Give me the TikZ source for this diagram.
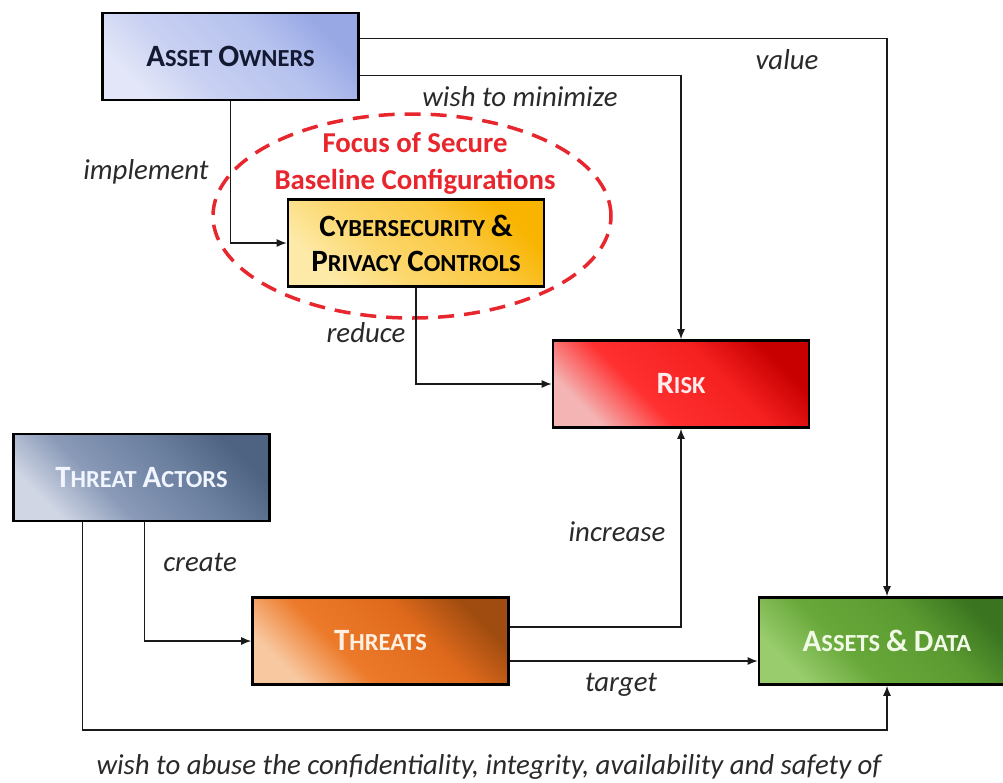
\documentclass[tikz,border=0pt]{standalone}
\usepackage{fontspec}
\setmainfont{Carlito}
\usetikzlibrary{arrows.meta,shapes.geometric}
\definecolor{lineclr}{HTML}{1A1A1A}
\definecolor{lblclr}{HTML}{2A2A2A}
\definecolor{focusred}{HTML}{E8262E}
\newcommand{\mkshade}[5]{\pgfdeclareverticalshading{#1}{100bp}{color(0bp)=(#2); color(25bp)=(#2); color(40bp)=(#3); color(60bp)=(#4); color(75bp)=(#5); color(100bp)=(#5)}}
\definecolor{aoA}{HTML}{E2E6F8}\definecolor{aoB}{HTML}{C8D0F2}\definecolor{aoC}{HTML}{B6C2EE}\definecolor{aoD}{HTML}{98A8E4}\definecolor{aoT}{RGB}{20,25,50}
\definecolor{cyA}{HTML}{FDEAA8}\definecolor{cyB}{HTML}{FCD870}\definecolor{cyC}{HTML}{FBC840}\definecolor{cyD}{HTML}{F8B400}
\definecolor{rkA}{HTML}{F4B4B4}\definecolor{rkB}{HTML}{FF3030}\definecolor{rkC}{HTML}{F52020}\definecolor{rkD}{HTML}{C80000}\definecolor{rkT}{RGB}{255,235,235}
\definecolor{taA}{HTML}{D0D6E4}\definecolor{taB}{HTML}{8A9AB8}\definecolor{taC}{HTML}{6A7E9E}\definecolor{taD}{HTML}{4E6282}\definecolor{taT}{RGB}{240,245,255}
\definecolor{thA}{HTML}{F8C8A0}\definecolor{thB}{HTML}{EC7A2A}\definecolor{thC}{HTML}{E06A1C}\definecolor{thD}{HTML}{A04C10}\definecolor{thT}{RGB}{255,240,225}
\definecolor{adA}{HTML}{98CC6C}\definecolor{adB}{HTML}{68A83A}\definecolor{adC}{HTML}{5A9A30}\definecolor{adD}{HTML}{3A7420}\definecolor{adT}{RGB}{240,250,230}
\mkshade{shAO}{aoA}{aoB}{aoC}{aoD}
\mkshade{shCY}{cyA}{cyB}{cyC}{cyD}
\mkshade{shRK}{rkA}{rkB}{rkC}{rkD}
\mkshade{shTA}{taA}{taB}{taC}{taD}
\mkshade{shTH}{thA}{thB}{thC}{thD}
\mkshade{shAD}{adA}{adB}{adC}{adD}
\newcommand{\bigc}[1]{{\fontsize{31}{34}\selectfont #1}}
\newcommand{\smc}[1]{{\fontsize{24.5}{34}\selectfont #1}}
\tikzset{
  box/.style={draw=black, line width=2.6pt, minimum width=256pt, minimum height=87pt,
    font=\bfseries\fontsize{26}{35}\selectfont, align=center, inner sep=0pt,
    shade, shading=#1, shading angle=-45},
  conn/.style={draw=lineclr, line width=1.3pt, -{Latex[length=10pt,width=8pt]}},
  lbl/.style={font=\itshape\fontsize{28.8}{32}\selectfont, text=lblclr, inner sep=0pt}
}
\begin{document}
\begin{tikzpicture}[x=1pt,y=-1pt]
\useasboundingbox (0,0) rectangle (1003,782);
\clip (0,0) rectangle (1003,782);
\fill[white] (0,0) rectangle (1003,782);
% boxes
\node[box=shAO, text=aoT] (ao) at (230.5,56.5) {\bigc{A}\smc{SSET} \bigc{O}\smc{WNERS}};
\node[box=shCY, text=black] (cy) at (416,243) {\bigc{C}\smc{YBERSECURITY} \bigc{\&}\\\bigc{P}\smc{RIVACY} \bigc{C}\smc{ONTROLS}};
\node[box=shRK, text=rkT] (risk) at (681,384) {\bigc{R}\smc{ISK}};
\node[box=shTA, text=taT] (ta) at (141.5,477.5) {\bigc{T}\smc{HREAT} \bigc{A}\smc{CTORS}};
\node[box=shTH, text=thT] (th) at (380.5,641) {\bigc{T}\smc{HREATS}};
\node[box=shAD, text=adT] (ad) at (887,641) {\bigc{A}\smc{SSETS} \bigc{\&} \bigc{D}\smc{ATA}};
% focus ellipse
\node[ellipse, draw=focusred, line width=3.5pt, dash pattern=on 16pt off 10pt, minimum width=398pt, minimum height=204pt, inner sep=0pt] (focus) at (412,216) {};
\node[font=\bfseries\fontsize{28.8}{37}\selectfont, text=focusred, align=center, inner sep=0pt] (focustxt) at (415,163) {Focus of Secure\\Baseline Configurations};
% helper
\coordinate (abot) at (0,730);
% connectors
\draw[conn] (ao.south) |- (cy.west);
\draw[conn] ([yshift=18pt]ao.east) -| (ad.north);
\draw[conn] ([yshift=-19pt]ao.east) -| (risk.north);
\draw[conn] (cy.south) |- (risk.west);
\draw[conn] ([xshift=3pt]ta.south) |- (th.west);
\draw[conn] ([xshift=-59pt]ta.south) |- (ad.south |- abot) -- (ad.south);
\draw[conn] ([yshift=14pt]th.east) -| (risk.south);
\draw[conn] ([yshift=-20pt]th.east) -- ([yshift=-20pt]th.east -| ad.west);
% labels
\node[lbl] (l1) at (146,172) {implement};
\node[lbl] (l2) at (787,60) {value};
\node[lbl] (l3) at (520,97) {wish to minimize};
\node[lbl] (l4) at (366,333) {reduce};
\node[lbl] (l5) at (200,562) {create};
\node[lbl] (l6) at (617,532) {increase};
\node[lbl] (l7) at (621,685) {target};
\node[lbl] (l8) at (489,767) {wish to abuse the confidentiality, integrity, availability and safety of};
\end{tikzpicture}
\end{document}
